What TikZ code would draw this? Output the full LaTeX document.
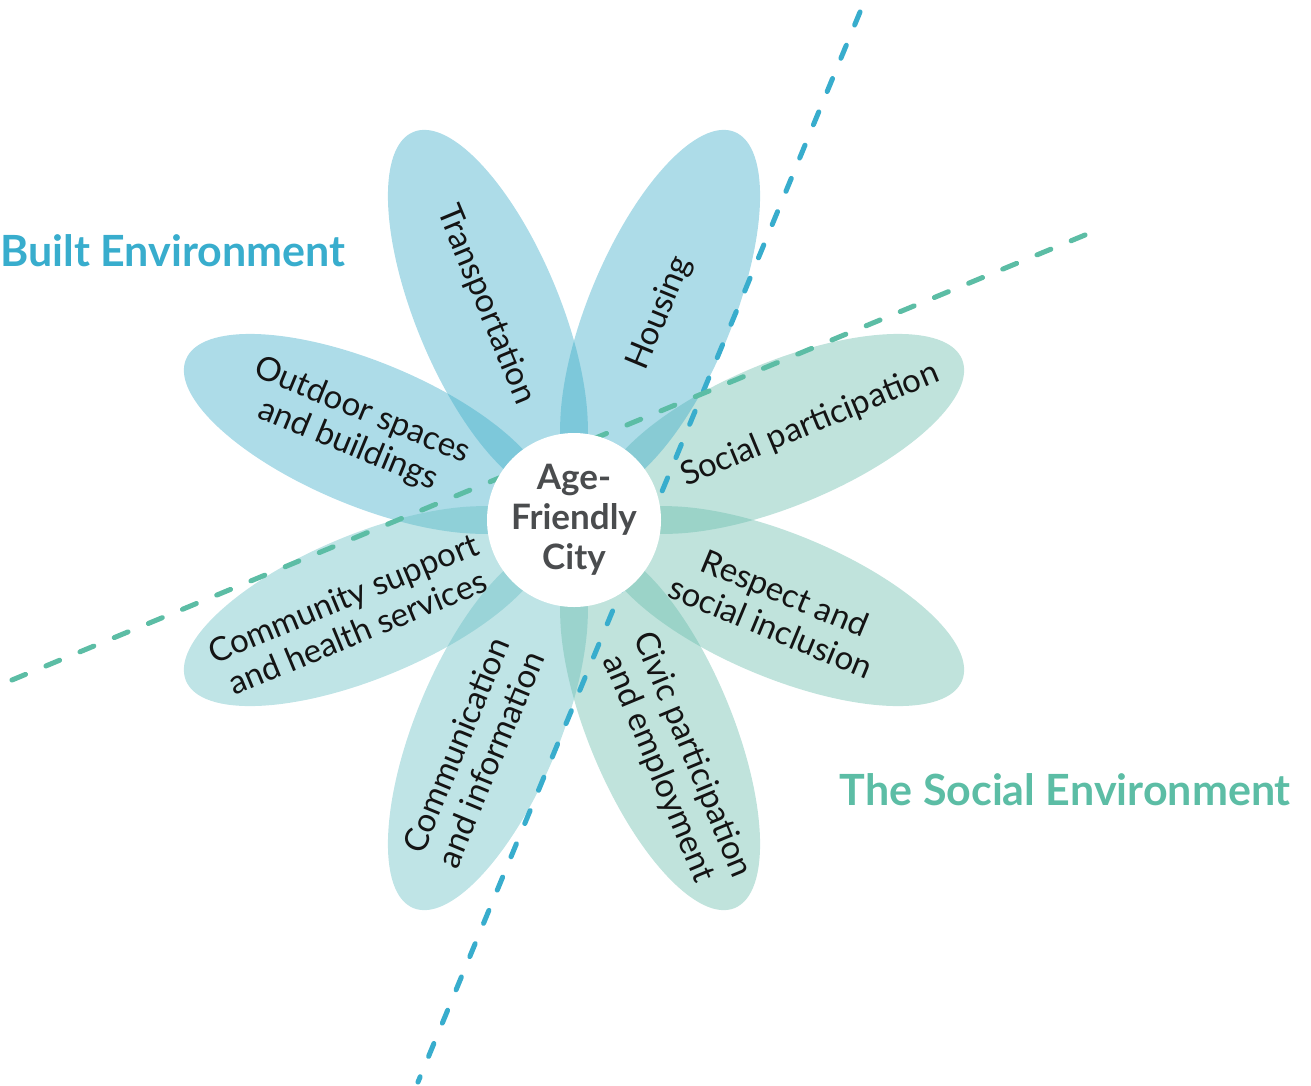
\documentclass[tikz,border=0pt]{standalone}
\usepackage{fontspec}
\setmainfont{Lato}
\usetikzlibrary{positioning,calc}

\definecolor{builtblue}{HTML}{38ADCD}
\definecolor{socialgreen}{HTML}{5CBDA5}
\definecolor{petalblue}{HTML}{40AEC9}
\definecolor{petalteal}{HTML}{6AC0C5}
\definecolor{petalgreen}{HTML}{6CBEAE}
\definecolor{hubgray}{HTML}{4A4C4E}

\begin{document}
\begin{tikzpicture}[x=1pt,y=-1pt,
    petal/.style={fill=#1,fill opacity=0.43},
    petaltext/.style={font=\fontsize{33}{37}\selectfont,align=center,text=black!92,inner sep=0pt},
    divider/.style={line width=5pt,line cap=round},
    zonetitle/.style={font=\fontsize{43}{50}\selectfont\bfseries,inner sep=0pt}]
  \useasboundingbox (0,0) rectangle (1311,1085);
  \coordinate (c) at (574,520);

  % petals
  \foreach \a/\col in {22.5/petalgreen,67.5/petalblue,112.5/petalblue,157.5/petalblue,
                       202.5/petalteal,247.5/petalteal,292.5/petalgreen,337.5/petalgreen}
    \fill[petal=\col,shift={(c)},rotate=\a] (225,0) ellipse[x radius=195,y radius=72];

  % dividing lines
  \coordinate (b1) at (860,12);
  \coordinate (b2) at (418,1082);
  \coordinate (g1) at (1085,235);
  \coordinate (g2) at (12,680);
  \draw[divider,builtblue,dash pattern=on 14pt off 22pt] (b1) -- (b2);
  \draw[divider,socialgreen,dash pattern=on 15pt off 22pt] (g1) -- (g2);

  % hub
  \fill[white] (c) circle[radius=87];
  \node[font=\fontsize{35}{40}\selectfont\bfseries,align=center,text=hubgray] (hub) at (c) {Age-\\Friendly\\City};

  % petal labels
  \node[petaltext,rotate=-67.5] (transport) at (486,305) {Transportation};
  \node[petaltext,rotate=67.5] (housing) at (660,313) {Housing};
  \node[petaltext,rotate=22.5] (socpart) at (810,425) {Social participation};
  \node[petaltext,rotate=-22.5] (respect) at (778,610) {Respect and\\social inclusion};
  \node[petaltext,rotate=-67.5] (civic) at (675,762) {Civic participation\\and employment};
  \node[petaltext,rotate=67.5] (commu) at (473,752) {Communication\\and information};
  \node[petaltext,rotate=22.5] (health) at (350,615) {Community support\\and health services};
  \node[petaltext,rotate=-22.5] (outdoor) at (355,428) {Outdoor spaces\\and buildings};

  % areas
  \node[zonetitle,text=builtblue,anchor=base west] (built) at (0,266) {Built Environment};
  \node[zonetitle,text=socialgreen,anchor=base east] (social) at (1291,805) {The Social Environment};
\end{tikzpicture}
\end{document}
